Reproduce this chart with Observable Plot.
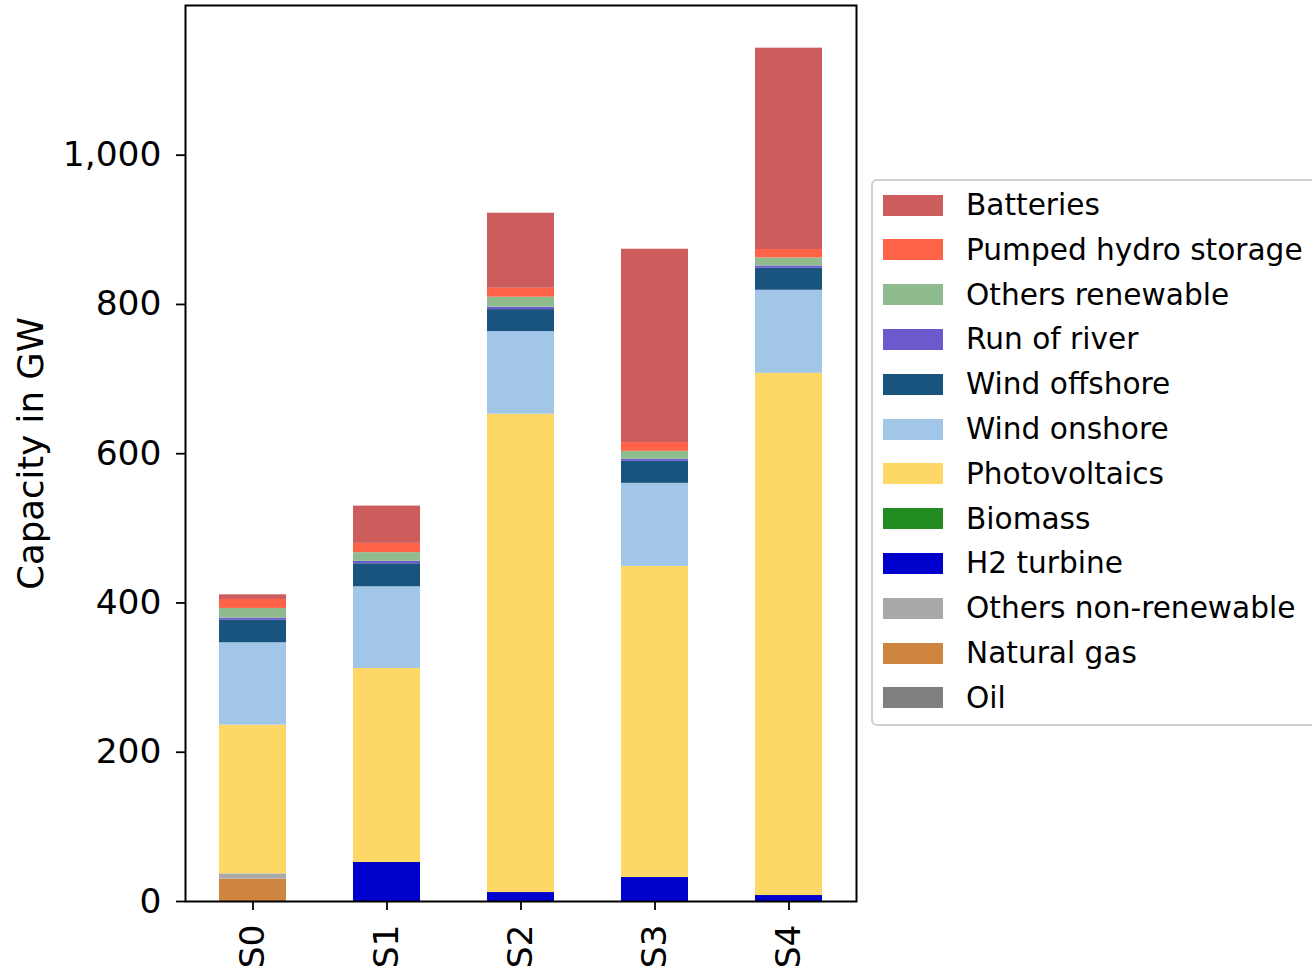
<!DOCTYPE html>
<html>
<head>
<meta charset="utf-8">
<script src="https://cdn.jsdelivr.net/npm/d3@7"></script>
<script src="https://cdn.jsdelivr.net/npm/@observablehq/plot@0.6"></script>
<style>
  html, body { margin: 0; padding: 0; background: #fff; }
  body { width: 1312px; height: 971px; overflow: hidden; position: relative; font-family: "DejaVu Sans", sans-serif; }
  #chart { position: absolute; left: 0; top: 0; }
  #legend { position: absolute; left: 871px; top: 179px; width: 470px; height: 547px;
            border: 2px solid #d0d0d0; border-radius: 6px; background: #fff; box-sizing: border-box; }
  .row { position: absolute; left: 10px; height: 30px; display: flex; align-items: center; }
  .sw { width: 60px; height: 21px; margin-right: 23px; }
  .lab { font-size: 29.6px; color: #000; white-space: nowrap; }
</style>
</head>
<body>
<div id="chart"></div>
<div id="legend"></div>
<script>
// Scenarios (x categories)
const scenarios = ["S0", "S1", "S2", "S3", "S4"];

// Technologies, stacked bottom to top
const technologies = ["Oil", "Natural gas", "Others non-renewable", "H2 turbine", "Biomass",
  "Photovoltaics", "Wind onshore", "Wind offshore", "Run of river", "Others renewable",
  "Pumped hydro storage", "Batteries"];
const techColors = ["#808080", "#cd853f", "#a9a9a9", "#0000cd", "#228b22",
  "#fdd866", "#a1c6e8", "#19547e", "#6a5acd", "#8fbc8f",
  "#ff6347", "#cd5c5c"];

// Capacity in GW per scenario (S0..S4)
const oil              = [0, 0, 0, 0, 0];
const naturalGas       = [30, 0, 0, 0, 0];
const othersNonRenew   = [7, 0, 0, 0, 0];
const h2Turbine        = [0, 52.3, 12, 32.2, 8];
const biomass          = [0, 0, 0, 0, 0];
const photovoltaics    = [199.3, 260, 640.8, 416.8, 699.8];
const windOnshore      = [110.4, 109.4, 110.8, 111.3, 111.2];
const windOffshore     = [30.2, 30.8, 29.5, 29.5, 29.5];
const runOfRiver       = [2.8, 3.3, 3.1, 2.7, 3];
const othersRenewable  = [13, 11.6, 13.5, 10.7, 10.8];
const pumpedHydro      = [12, 12.5, 12, 11.7, 11.3];
const batteries        = [6.2, 49.9, 100.6, 259.1, 269.8];

const yTicks = [0, 200, 400, 600, 800, 1000];

const seriesValues = [oil, naturalGas, othersNonRenew, h2Turbine, biomass, photovoltaics,
  windOnshore, windOffshore, runOfRiver, othersRenewable, pumpedHydro, batteries];

const rows = [];
technologies.forEach((t, i) => {
  scenarios.forEach((s, j) => rows.push({scenario: s, tech: t, value: seriesValues[i][j]}));
});
const totals = scenarios.map((s, j) => d3.sum(seriesValues, v => v[j]));
const yMax = d3.max(totals) * 1.05;
const fmt = d3.format(",");

const chart = Plot.plot({
  width: 1312,
  height: 971,
  marginLeft: 185,
  marginRight: 456,
  marginTop: 5,
  marginBottom: 70,
  style: {fontFamily: "DejaVu Sans", fontSize: "34px", color: "#000", background: "#fff"},
  x: {domain: scenarios, paddingInner: 0.5, paddingOuter: 0.25, label: null},
  y: {domain: [0, yMax], label: null},
  color: {domain: technologies, range: techColors},
  marks: [
    Plot.barY(rows, {x: "scenario", y: "value", fill: "tech", order: technologies}),
    Plot.frame({stroke: "#000", strokeWidth: 2}),
    Plot.axisY({ticks: yTicks, tickFormat: d => fmt(d), tickSize: 9, tickPadding: 15, fontSize: 34.5, strokeWidth: 1.8, label: null}),
    Plot.axisX({tickRotate: -90, tickSize: 9, tickPadding: 14, fontSize: 34.5, strokeWidth: 1.8, label: null}),
    Plot.text(["Capacity in GW"], {frameAnchor: "left", rotate: -90, dx: -168, textAnchor: "middle", lineAnchor: "top", fontSize: 35.5})
  ]
});
document.getElementById("chart").appendChild(chart);

// Legend (top to bottom = reverse stack order)
const legend = document.getElementById("legend");
const legendItems = technologies.map((t, i) => ({t, c: techColors[i]})).reverse();
legendItems.forEach((d, k) => {
  const row = document.createElement("div");
  row.className = "row";
  row.style.top = (9 + k * 44.8) + "px";
  row.innerHTML = `<div class="sw" style="background:${d.c}"></div><span class="lab">${d.t}</span>`;
  legend.appendChild(row);
});
</script>
</body>
</html>
